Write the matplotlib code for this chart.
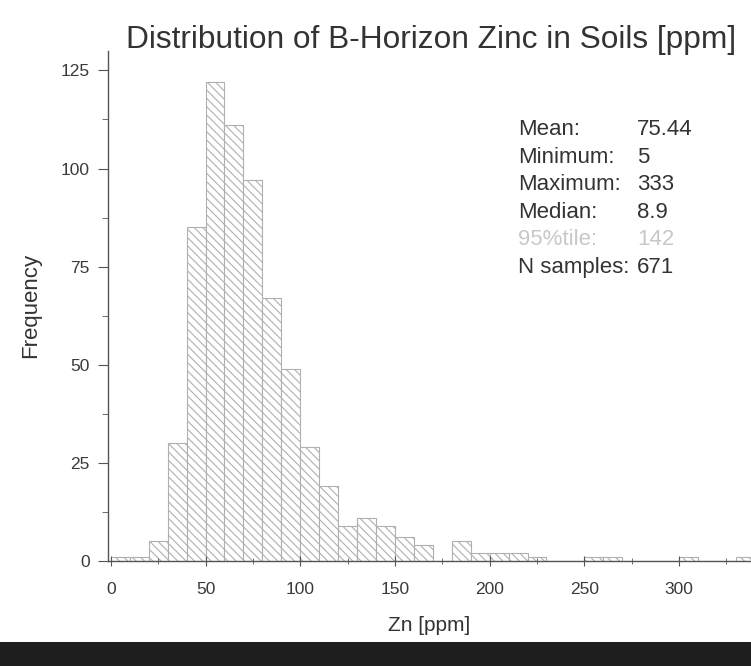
import matplotlib.pyplot as plt
from matplotlib.patches import Rectangle
from matplotlib.ticker import MultipleLocator

plt.rcParams['font.family'] = ['Liberation Sans', 'DejaVu Sans']
plt.rcParams['hatch.color'] = '#a5a5a5'
plt.rcParams['hatch.linewidth'] = 0.8

# histogram bins (10 ppm wide) and counts
bin_left = [0, 10, 20, 30, 40, 50, 60, 70, 80, 90, 100, 110, 120, 130, 140,
            150, 160, 170, 180, 190, 200, 210, 220, 230, 240, 250, 260, 270,
            280, 290, 300, 310, 320, 330]
counts = [1, 1, 5, 30, 85, 122, 111, 97, 67, 49, 29, 19, 9, 11, 9,
          6, 4, 0, 5, 2, 2, 2, 1, 0, 0, 1, 1, 0,
          0, 0, 1, 0, 0, 1]

stat_labels = ["Mean:", "Minimum:", "Maximum:", "Median:", "95%tile:", "N samples:"]
stat_values = ["75.44", "5", "333", "8.9", "142", "671"]
stat_colors = ["#333333"] * 4 + ["#c8c8c8", "#333333"]

fig = plt.figure(figsize=(7.51, 6.66), dpi=100)
ax = fig.add_axes([0.1438, 0.1577, 0.8562, 0.766])

ax.bar(bin_left, counts, width=10, align='edge', facecolor='white',
       edgecolor='#b0b0b0', linewidth=0.8, hatch='\\\\\\\\')

ax.set_xlim(-1.5, 338)
ax.set_ylim(0, 130)
ax.spines['top'].set_visible(False)
ax.spines['right'].set_visible(False)
for s in ['left', 'bottom']:
    ax.spines[s].set_color('#555555')
    ax.spines[s].set_linewidth(1.0)

ax.xaxis.set_major_locator(MultipleLocator(50))
ax.xaxis.set_minor_locator(MultipleLocator(25))
ax.yaxis.set_major_locator(MultipleLocator(25))
ax.yaxis.set_minor_locator(MultipleLocator(12.5))
ax.tick_params(which='major', length=7, color='#555555', labelsize=12.5,
               labelcolor='#3a3a3a', pad=6)
ax.tick_params(which='minor', length=4, color='#555555')
ax.tick_params(axis='x', which='both', direction='inout', pad=12)

ax.set_xlabel("Zn [ppm]", fontsize=15, color='#333333', labelpad=13)
ax.set_ylabel("Frequency", fontsize=16, color='#333333', labelpad=14)
fig.text(0.574, 0.94, "Distribution of B-Horizon Zinc in Soils [ppm]",
         fontsize=22.8, color='#333333', ha='center', va='center')

y0 = 0.805
dy = 0.0413
for i, (lab, val, col) in enumerate(zip(stat_labels, stat_values, stat_colors)):
    fig.text(0.69, y0 - i * dy, lab, fontsize=16, color=col, va='center')
    fig.text(0.848, y0 - i * dy, val, fontsize=16, color=col, va='center')

# dark scanner band along the bottom edge
fig.patches.append(Rectangle((0, 0), 1, 0.036, transform=fig.transFigure,
                             facecolor='#1e1e1e', edgecolor='none'))

fig.savefig("out.png", dpi=100)
